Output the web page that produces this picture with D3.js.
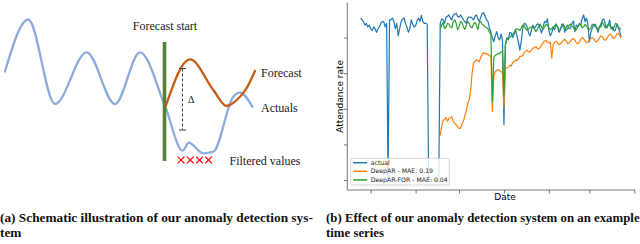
<!DOCTYPE html>
<html>
<head>
<meta charset="utf-8">
<script src="https://cdn.jsdelivr.net/npm/d3@7"></script>
<style>
  body { margin: 0; background: #fff; }
  svg { display: block; }
</style>
</head>
<body>
<svg id="fig" width="640" height="244"></svg>
<script>
// ---------------- data: (b) time series ----------------
const actualStart = new Date(2020, 8, 24);    // first actual value
const forecastStart = new Date(2020, 10, 18); // first forecast value

const actual = [
  .91, .90, .89, .87, .88, .86, .87, .85, .84, .86,
  .85, .83, .85, .86, .88, .89, .89, .86, .88, 0,
  .90, .90, .91, .89, .85, .88, .81, .85, .89, .905,
  .91, .88, .86, .83, .85, .90, .875, .86, .865, .895,
  .91, .89, .925, .89, .88, .88, .875, 0, 0, 0,
  0, 0, 0, 0, 0, .88, .905, .90, .88, .915,
  .92, .927, .91, .90, .927, .933, .937, .92, .915, .927,
  .915, .90, .89, .88, .91, .915, .915, .91, .90, .92,
  .927, .905, .89, .915, .937, .94, .92, .90, .89, .854,
  .83, .80, .777, .81, .833, .80, .787, .82, .787, .31,
  .76, .80, .787, .83, .826, .80, .82, .843, .81, .775,
  .73, .78, .854, .88, .876, .86, .826, .81, .843, .87,
  .85, .865, .876, .876, .85, .826, .86, .89, .885, .905,
  .843, .81, .826, .86, .843, .876, .86, .83, .843, .876,
  .876, .83, .86, .87, .85, .854, .882, .893, .833, .87,
  .86, .88, .87, .905, .927, .89, .91, .87, .775, .83,
  .854, .87, .876, .855, .83, .865, .86, .90, .905, .876,
  .854, .87, .90, .85, .86, .837, .843, .876, .855, .83, .805
];

const deepar = [
  .25, .30, .335, .34, .35, .33, .345, .35, .355, .33,
  .32, .31, .30, .29, .29, .315, .33, .36, .39, .43,
  .45, .50, .60, .66, .665, .675, .67, .665, .69, .705,
  .715, .71, .71, .705, .70, .69, .385, .58, .61, .615,
  .62, .615, .61, .60, .41, .625, .63, .635, .645, .64,
  .66, .665, .675, .67, .68, .695, .695, .70, .715, .725,
  .73, .72, .72, .73, .74, .745, .75, .74, .735, .745,
  .76, .77, .78, .785, .775, .77, .775, .685, .76, .775,
  .78, .77, .76, .765, .775, .785, .79, .78, .765, .77,
  .78, .79, .795, .785, .77, .765, .775, .79, .80, .795,
  .78, .77, .775, .785, .795, .80, .795, .78, .775, .785,
  .80, .81, .805, .79, .785, .795, .81, .82, .815, .80,
  .795, .805, .82, .825, .81, .80
];

const deeparFor = [
  .85, .87, .885, .85, .86, .88, .875, .86, .855, .89,
  .90, .88, .845, .86, .89, .885, .86, .845, .87, .89,
  .88, .86, .855, .875, .885, .87, .845, .885, .89, .875,
  .87, .86, .855, .85, .83, .82, .44, .69, .70, .705,
  .71, .71, .72, .72, .47, .76, .79, .80, .80, .81,
  .82, .83, .845, .85, .845, .84, .855, .87, .865, .85,
  .84, .85, .855, .86, .865, .85, .835, .845, .865, .875,
  .86, .845, .86, .875, .87, .855, .845, .85, .86, .865,
  .875, .86, .845, .85, .86, .87, .86, .84, .85, .87,
  .875, .865, .86, .84, .845, .86, .875, .87, .855, .86,
  .875, .865, .85, .845, .855, .875, .87, .86, .855, .845,
  .86, .88, .885, .87, .855, .865, .875, .87, .855, .845,
  .86, .88, .875, .86, .85, .845
];

const seriesNames = ["actual", "DeepAR - MAE: 0.19", "DeepAR-FOR - MAE: 0.04"];
const seriesColors = ["#1f77b4", "#ff7f0e", "#2ca02c"];
const monthTicks = [
  new Date(2020, 9, 1), new Date(2020, 10, 1), new Date(2020, 11, 1),
  new Date(2021, 0, 1), new Date(2021, 1, 1), new Date(2021, 2, 1), new Date(2021, 3, 1)
];
const yTicks = [0, 0.2, 0.4, 0.6, 0.8];

// ---------------- data: (a) schematic (arbitrary units) ----------------
const schemActual = [
  [0, 17.7], [4.66, 28.1], [10, 11.2], [16.34, 21.54], [22, 11.2], [27, 21.54],
  [32, 10.8], [35.54, 1.86], [36.74, 3.46], [39.66, 1.34], [41.66, 1.66],
  [45.66, 12.66], [47, 13.46], [49.46, 10.66]
];
const schemForecast = [
  [32.14, 10.8], [37, 20.14], [41.66, 14], [44.34, 10.8], [46.34, 12], [48.34, 14.4], [50, 17.8]
];
const schemStart = 31.9;           // forecast start position
const schemBar = [-0.2, 23.6];     // vertical extent of the start bar
const schemDelta = [35.5, 18.3, 6]; // x, top, bottom of the delta marker
const filtered = [35.2, 37.05, 38.9, 40.7];

const captionA = ["(a) Schematic illustration of our anomaly detection sys-", "tem"];
const captionB = ["(b) Effect of our anomaly detection system on an example", "time series"];

const svg = d3.select("#fig");

// =============== (b) time series ===============
const plotLeft = 347.3, plotRight = 635, plotTop = 2.7, plotBottom = 190;

let x = d3.scaleTime()
  .domain([monthTicks[0], monthTicks[monthTicks.length - 1]])
  .range([370.7, 634.3]);
let y = d3.scaleLinear()
  .domain([-0.056, 0.996])
  .range([plotBottom, plotTop]);

function toSeries(start, values) {
  return values.map((v, i) => ({ date: d3.timeDay.offset(start, i), value: v }));
}

let line = d3.line()
  .x(d => x(d.date))
  .y(d => y(d.value));

// axes
let gx = svg.append("g")
  .attr("transform", "translate(0," + plotBottom + ")")
  .call(d3.axisBottom(x).tickValues(monthTicks).tickSize(3.5).tickSizeOuter(0).tickFormat(""));
gx.select(".domain").remove();
gx.append("line")
  .attr("x1", plotLeft).attr("x2", plotRight)
  .attr("stroke", "#555").attr("stroke-width", 0.8);
gx.selectAll(".tick line").attr("stroke", "#555").attr("stroke-width", 0.8);

let gy = svg.append("g")
  .attr("transform", "translate(" + plotLeft + ",0)")
  .call(d3.axisLeft(y).tickValues(yTicks).tickSize(3.5).tickSizeOuter(0).tickFormat(""));
gy.select(".domain").remove();
gy.append("line")
  .attr("y1", plotTop).attr("y2", plotBottom)
  .attr("stroke", "#555").attr("stroke-width", 0.8);
gy.selectAll(".tick line").attr("stroke", "#555").attr("stroke-width", 0.8);

// lines
let allSeries = [
  toSeries(actualStart, actual),
  toSeries(forecastStart, deepar),
  toSeries(forecastStart, deeparFor)
];
svg.append("g")
  .selectAll("path")
  .data(allSeries)
  .enter()
  .append("path")
  .attr("d", line)
  .attr("fill", "none")
  .attr("stroke", (d, i) => seriesColors[i])
  .attr("stroke-width", 1.2)
  .attr("stroke-linejoin", "round");

// axis labels
svg.append("text")
  .attr("x", 505)
  .attr("y", 200)
  .attr("text-anchor", "middle")
  .style("font-family", "DejaVu Sans")
  .style("font-size", "9px")
  .text("Date");

svg.append("text")
  .attr("transform", "translate(343," + ((plotTop + plotBottom) / 2) + ") rotate(-90)")
  .attr("text-anchor", "middle")
  .style("font-family", "DejaVu Sans")
  .style("font-size", "9px")
  .text("Attendance rate");

// legend
let legend = svg.append("g").attr("transform", "translate(350.7,158.3)");
legend.append("rect")
  .attr("width", 98.6).attr("height", 26.7).attr("rx", 2)
  .attr("fill", "#fff").attr("fill-opacity", 0.8)
  .attr("stroke", "#ccc").attr("stroke-width", 0.8);
let items = legend.selectAll(".item")
  .data(seriesNames)
  .enter()
  .append("g")
  .attr("transform", (d, i) => "translate(0," + (4.4 + i * 8.6) + ")");
items.append("line")
  .attr("x1", 2.5).attr("x2", 16.5)
  .attr("stroke", (d, i) => seriesColors[i])
  .attr("stroke-width", 1.5);
items.append("text")
  .attr("x", 20)
  .attr("dy", "0.35em")
  .style("font-family", "DejaVu Sans")
  .style("font-size", "6.2px")
  .attr("fill", "#222")
  .text(d => d);

// =============== (a) schematic ===============
let sx = d3.scaleLinear().domain([0, 50]).range([5, 255]);
let sy = d3.scaleLinear().domain([0, 30]).range([160, 10]);

let sline = d3.line()
  .x(d => sx(d[0]))
  .y(d => sy(d[1]))
  .curve(d3.curveMonotoneX);

svg.append("path")
  .attr("d", sline(schemActual))
  .attr("fill", "none")
  .attr("stroke", "#8faadc")
  .attr("stroke-width", 2.3)
  .attr("stroke-linecap", "round");

svg.append("line")
  .attr("x1", sx(schemStart)).attr("x2", sx(schemStart))
  .attr("y1", sy(schemBar[1])).attr("y2", sy(schemBar[0]))
  .attr("stroke", "#548235")
  .attr("stroke-width", 3.6);

svg.append("path")
  .attr("d", sline(schemForecast))
  .attr("fill", "none")
  .attr("stroke", "#c55a11")
  .attr("stroke-width", 2.3)
  .attr("stroke-linecap", "round");

// delta marker
let dg = svg.append("g").attr("stroke", "#404040").attr("stroke-width", 1);
dg.append("line")
  .attr("x1", sx(schemDelta[0])).attr("x2", sx(schemDelta[0]))
  .attr("y1", sy(schemDelta[1])).attr("y2", sy(schemDelta[2]))
  .attr("stroke-dasharray", "3,2");
[schemDelta[1], schemDelta[2]].forEach(v => {
  dg.append("line")
    .attr("x1", sx(schemDelta[0]) - 3.5).attr("x2", sx(schemDelta[0]) + 3.5)
    .attr("y1", sy(v)).attr("y2", sy(v));
});

// filtered values crosses
svg.append("g")
  .selectAll("path")
  .data(filtered)
  .enter()
  .append("path")
  .attr("d", d => {
    let cx = sx(d), cy = sy(0), r = 3.4;
    return "M" + (cx - r) + "," + (cy - r) + "L" + (cx + r) + "," + (cy + r) +
           "M" + (cx - r) + "," + (cy + r) + "L" + (cx + r) + "," + (cy - r);
  })
  .attr("stroke", "#ff0000")
  .attr("stroke-width", 1.3)
  .attr("fill", "none");

// schematic labels
let serif = "Liberation Serif";
function slabel(px, py, txt, anchor, size) {
  svg.append("text")
    .attr("x", px).attr("y", py)
    .attr("text-anchor", anchor || "start")
    .style("font-family", serif)
    .style("font-size", (size || 12) + "px")
    .attr("fill", "#1a1a1a")
    .text(txt);
}
slabel(165, 30, "Forecast start", "middle");
slabel(261, 77, "Forecast");
slabel(261, 112, "Actuals");
slabel(229.5, 164.5, "Filtered values");
slabel(188, 103, "Δ", "start", 10);

// =============== captions ===============
// narrow the bold serif horizontally so the first line fills the column
function caption(px, lines, width) {
  let g = svg.append("g");
  let texts = lines.map((t, i) => g.append("text")
    .attr("x", 0)
    .attr("y", 222 + i * 15)
    .style("font-family", serif)
    .style("font-weight", "bold")
    .style("font-size", "12.5px")
    .attr("fill", "#111")
    .text(t));
  let k = width / texts[0].node().getComputedTextLength();
  g.attr("transform", "translate(" + px + ",0) scale(" + k + ",1)");
}
caption(0, captionA, 313);
caption(326, captionB, 314);
</script>
</body>
</html>
